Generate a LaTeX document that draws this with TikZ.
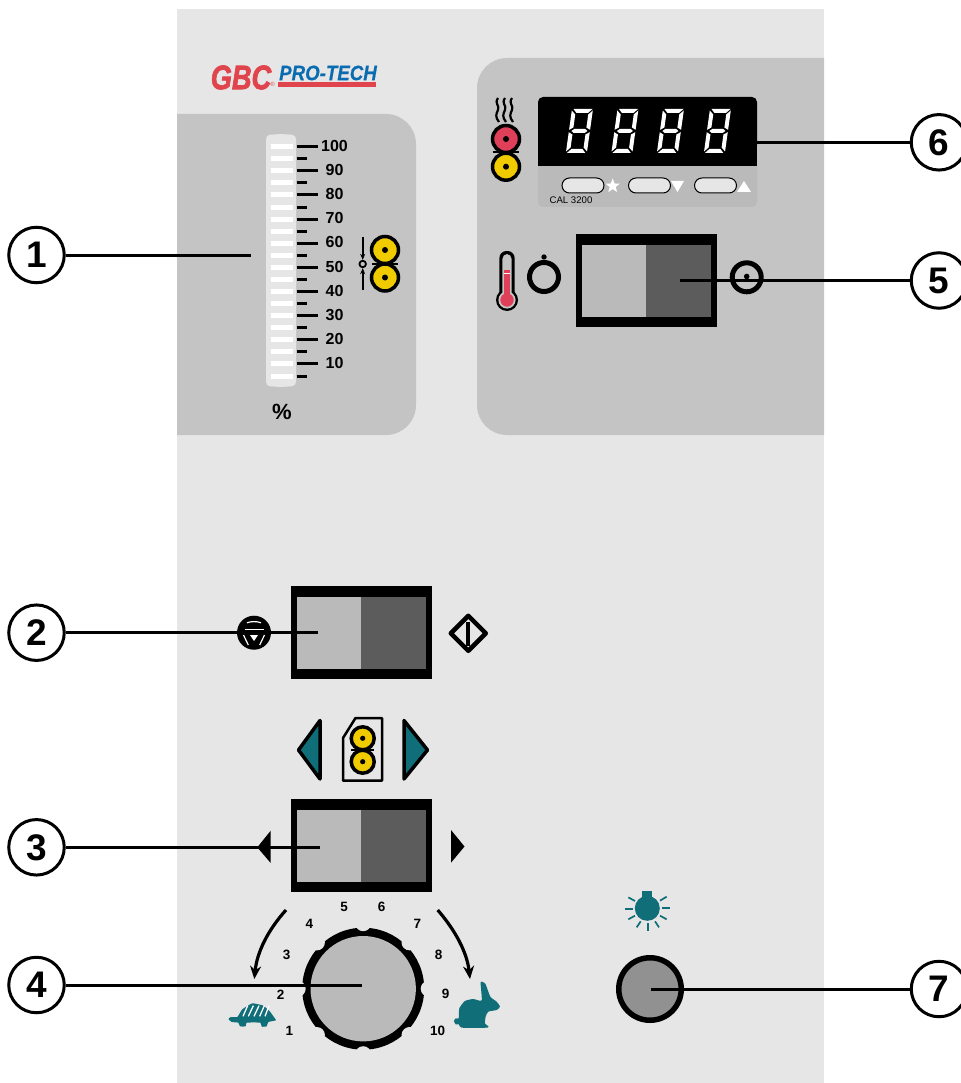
\documentclass[tikz,border=0pt]{standalone}
\usepackage{fontspec}
\setmainfont{Liberation Sans}
\newfontfamily\gbcfont{Liberation Sans}[BoldItalicFeatures={FakeBold=2.2}]
\newfontfamily\profont{Liberation Sans}[BoldItalicFeatures={FakeBold=0.5}]
\usetikzlibrary{shapes.geometric,arrows.meta,calc}
\definecolor{bgc}{HTML}{E6E6E6}
\definecolor{panelc}{HTML}{C4C4C4}
\definecolor{lightc}{HTML}{BABABA}
\definecolor{darkc}{HTML}{5C5C5C}
\definecolor{yellowc}{HTML}{F0CB00}
\definecolor{redc}{HTML}{DF3F58}
\definecolor{tealc}{HTML}{0F6E78}
\definecolor{logored}{HTML}{E0444C}
\definecolor{logoblue}{HTML}{0A6CB0}
\newcommand\fsz[1]{\fontsize{#1}{#1}\selectfont}
\tikzset{
  callout/.style={circle,draw=black,fill=white,line width=3pt,minimum size=55.5pt,inner sep=0pt,font=\fsz{37}\bfseries},
  leader/.style={line width=3pt,black},
  scalelabel/.style={font=\fsz{16}\bfseries,inner sep=0pt},
  diallabel/.style={font=\fsz{13.5}\bfseries,inner sep=0pt},
  tick/.style={line width=3pt,black},
  swframe/.style={rectangle,fill=black,inner sep=0pt,minimum width=141pt,minimum height=93pt},
  rollerb/.style={circle,draw=black,line width=3.5pt,inner sep=0pt},
  bigroller/.style={rollerb,minimum size=27pt},
  smallroller/.style={rollerb,minimum size=23pt},
  tealtri/.style={fill=tealc,draw=black,line width=3.5pt,line join=round},
  ray/.style={line width=1.7pt,tealc},
  turn/.style={line width=3.2pt,black,-{Stealth[length=13pt,width=11pt]}},
  pill/.style={rectangle,rounded corners=7.5pt,fill=bgc,draw=black,line width=1pt,inner sep=0pt,minimum height=15pt,minimum width=42pt},
  softkey/.style={fill=white},
}
\newcommand\sevenseg{%
  \fill[white] (1.5,0)--(20.5,0)--(16.5,4)--(5,4)--cycle;
  \fill[white] (1,44)--(19.5,44)--(16,40)--(5,40)--cycle;
  \fill[white] (0,1.5)--(4,5.5)--(4,18.5)--(0,20.8)--cycle;
  \fill[white] (21,1.5)--(17,5.5)--(17,18.5)--(21,20.8)--cycle;
  \fill[white] (0,23.2)--(4,25.5)--(4,38.5)--(0,42.5)--cycle;
  \fill[white] (21,23.2)--(17,25.5)--(17,38.5)--(21,42.5)--cycle;
  \fill[white] (2.5,22)--(5,20)--(16,20)--(18.5,22)--(16,24)--(5,24)--cycle;
}
\newcommand\rockerswitch[3]{% name, x centre, y centre
  \node[swframe] (#1) at (#2,#3) {};
  \fill[lightc] ($(#1.center)+(-64.5,-36)$) rectangle ($(#1.center)+(0,36)$);
  \fill[darkc] ($(#1.center)+(0,-36)$) rectangle ($(#1.center)+(64.5,36)$);
}
\begin{document}
\begin{tikzpicture}[x=1pt,y=-1pt]
\useasboundingbox (0,0) rectangle (960,1083);
\fill[white] (0,0) rectangle (960,1083);
\fill[bgc] (177,9) rectangle (824,1083);
% grey panels
\begin{scope}
  \clip (177,0) rectangle (824,1083);
  \fill[panelc,rounded corners=30pt] (120,114) rectangle (416,435);
  \fill[panelc,rounded corners=30pt] (477,58) rectangle (880,435);
\end{scope}
% logo
\node[inner sep=0pt,text=logored,font=\fsz{34}\gbcfont\bfseries\itshape] (gbc) at (241,77.5) {\scalebox{.8}[1]{GBC}};
\node[inner sep=0pt,text=logored,font=\fsz{6}] (reg) at (272.5,84.5) {®};
\node[inner sep=0pt,text=logoblue,font=\fsz{21}\profont\bfseries\itshape] (pro) at (328,73) {\scalebox{.89}[1]{PRO-TECH}};
\fill[logored] (278,82) rectangle (376,87);
% tube scale
\fill[bgc,rounded corners=4pt] (266,135) -- (281,134) -- (296,135) -- (296,386) -- (281,387) -- (266,386) -- cycle;
\foreach \i in {0,...,19}{
  \pgfmathsetmacro\yy{146.7+12.07*\i}
  \fill[white] (271,\yy-2.5) rectangle (293,\yy+2.5);
  \pgfmathparse{int(mod(\i,2))}
  \ifnum\pgfmathresult=0
    \draw[tick] (296.5,\yy) -- (318,\yy);
  \else
    \draw[tick] (296.5,\yy) -- (307,\yy);
  \fi
}
\foreach \v/\yy in {100/146,90/170,80/194,70/218,60/242,50/266.5,40/290.5,30/315,20/339,10/363}{
  \node[scalelabel] (s\v) at (334.5,\yy) {\v};
}
\node[inner sep=0pt,font=\fsz{22}\bfseries] (pct) at (282,412) {\%};
% nip rollers, left
\node[bigroller,fill=yellowc] (ra) at (385,250) {};
\node[bigroller,fill=yellowc] (rb) at (385,277.5) {};
\fill (ra) circle[radius=3]; \fill (rb) circle[radius=3];
\draw[line width=2pt] (372,263.5) -- (398,263.5);
\node[circle,draw=black,line width=1.8pt,fill=panelc,minimum size=6.5pt,inner sep=0pt] (gap) at (362.7,264) {};
\coordinate (gt) at (362.7,237); \coordinate (gb) at (362.7,290);
\draw[line width=2pt,-{Stealth[length=6pt,width=5pt]}] (gt) -- (gap.north);
\draw[line width=2pt,-{Stealth[length=6pt,width=5pt]}] (gb) -- (gap.south);
% display
\fill[lightc,rounded corners=5pt] (538,150) rectangle (757,207);
\fill[black,rounded corners=5pt] (538,97) rectangle (757,150);
\fill[black] (538,110) rectangle (757,166);
\foreach \dx in {572,617.5,663,710}{
  \begin{scope}[shift={(\dx,109)},xslant=0.14]
    \sevenseg
  \end{scope}
}
\node[pill] (k1) at (583,185.5) {};
\node[pill] (k2) at (649.5,185.5) {};
\node[pill] (k3) at (715.5,185.5) {};
\node[star,star points=5,star point ratio=2.4,softkey,inner sep=0pt,minimum size=15pt] (kstar) at (612.7,186) {};
\fill[softkey] (671,181) -- (684,181) -- (677.5,192) -- cycle;
\fill[softkey] (737,192) -- (751,192) -- (744,181) -- cycle;
\node[inner sep=0pt,font=\fsz{9.6}] (cal) at (571,200.5) {CAL 3200};
% heat icon
\foreach \xx in {498,505,512}{
  \draw[line width=2.2pt] (\xx,98) .. controls (\xx-4,104) and (\xx+2,105) .. (\xx,110) .. controls (\xx-2,114) and (\xx-3,117) .. (\xx+1,122);
}
\node[bigroller,fill=redc] (heat) at (506,139) {};
\node[bigroller,fill=yellowc] (heatb) at (506,166.7) {};
\fill (heat) circle[radius=3]; \fill (heatb) circle[radius=3];
\draw[line width=2pt] (493,152.5) -- (519,152.5);
% thermometer
\fill[black,rounded corners=7pt] (499.4,251) rectangle (514.6,300);
\fill[black] (507,300) circle[radius=11];
\fill[panelc,rounded corners=5pt] (502.4,254) rectangle (511.6,300);
\fill[panelc] (507,300) circle[radius=8.6];
\fill[redc] (507,300) circle[radius=6.7];
\fill[redc] (504,270) rectangle (510,298);
\draw[white,line width=1pt] (504,273.5) -- (510,273.5);
% off circle and on circle
\node[circle,draw=black,line width=5pt,minimum size=29pt,inner sep=0pt] (ofc) at (544,277) {};
\fill (544,257) circle[radius=2.7];
\rockerswitch{sw5}{646}{280.5}
\node[circle,draw=black,line width=5pt,minimum size=29pt,inner sep=0pt] (onc) at (746.7,277.3) {};
\fill (746.7,276.5) circle[radius=2.8];
% switch 2
\rockerswitch{sw2}{361.3}{632.5}
\node[circle,fill=black,minimum size=34pt,inner sep=0pt] (stop) at (254,632.7) {};
\draw[white,line width=1.2pt] (247,622.8) .. controls (251,621.2) and (257,621.2) .. (261,622.8);
\draw[white,line width=1.2pt] (244.5,629.5) -- (263.5,629.5);
\fill[white] (250,635) -- (258,635) -- (254,641) -- cycle;
\draw[white,line width=1.2pt] (243.5,635) -- (248.3,645);
\draw[white,line width=1.2pt] (264.5,635) -- (259.7,645);
\draw[line width=4.5pt,line join=round] (468.3,615.8) -- (485.8,633.3) -- (468.3,650.8) -- (450.8,633.3) -- cycle;
\draw[line width=4pt] (468.3,621.7) -- (468.3,646);
% direction block
\draw[tealtri] (320,720.5) -- (298.5,750) -- (320,779) -- cycle;
\draw[tealtri] (404,720.5) -- (427.5,750) -- (404,779) -- cycle;
\draw[line width=2.5pt,line join=round,fill=bgc] (355.5,718) -- (382,718) -- (382,780.5) -- (343,780.5) -- (343,738) -- cycle;
\node[smallroller,fill=yellowc] (rc) at (362.7,738.3) {};
\node[smallroller,fill=yellowc] (rd) at (362.7,761.7) {};
\fill (rc) circle[radius=2.6]; \fill (rd) circle[radius=2.6];
\draw[line width=2pt] (351,750) -- (374,750);
% switch 3
\rockerswitch{sw3}{361.3}{845.5}
\fill (270.7,830.7) -- (270.7,863) -- (257.3,847.3) -- cycle;
\fill (451,830) -- (451,862.7) -- (464.5,846.5) -- cycle;
% dial numbers
\foreach \t/\a/\b in {1/289.3/1030.7,2/280.7/994.3,3/286.7/955.3,4/309.3/924.3,5/344/907.3,6/381.7/907.3,7/417.3/924.3,8/438.7/955.3,9/445.7/994.3,10/437.7/1030.7}{
  \node[diallabel] (d\t) at (\a,\b) {\t};
}
% knob
\node[circle,fill=black,minimum size=122pt,inner sep=0pt] (knobo) at (363.2,988.7) {};
\begin{scope}[shift={(363.2,988.7)}]
  \foreach \a in {0,45,...,315}{
    \fill[bgc] (\a:65.5) circle[radius=8];
  }
\end{scope}
\node[circle,fill=lightc,minimum size=105.4pt,inner sep=0pt] (knob) at (363.2,988.7) {};
% speed arrows
\coordinate (ta) at (286,910); \coordinate (tb) at (254.3,979);
\coordinate (tc) at (437.7,910); \coordinate (td) at (470,979);
\draw[turn] (ta) .. controls (268,930) and (257,952) .. (tb);
\draw[turn] (tc) .. controls (455,930) and (467,952) .. (td);
% turtle and rabbit
\begin{scope}[shift={(215,895)},x=0.3333pt,y=-0.3333pt]
  \fill[tealc] plot[smooth cycle,tension=.35] coordinates {(797,262)(811,266)(826,305)(845,320)(855,335)(845,345)(820,350)(812,365)(810,385)(818,392)(818,398)(740,398)(732,388)(722,388)(717,378)(722,370)(731,370)(733,340)(750,318)(775,312)(800,316)};
  \fill[tealc] plot[smooth cycle,tension=.25] coordinates {(40,372)(48,366)(67,366)(82,343)(112,325)(145,332)(165,350)(178,368)(183,376)(160,381)(155,394)(140,395)(136,383)(95,383)(92,394)(75,394)(70,383)(50,381)};
  \foreach \p/\q in {84/98,100/115,117/132,134/148,150/162}{
    \draw[white,line width=1.3pt] (\p,364) -- (\q,332);
  }
\end{scope}
% lamp
\fill[tealc] (642.3,891) rectangle (651.7,900);
\fill[tealc] (647.3,908.3) circle[radius=12.5];
\begin{scope}[shift={(600,880)},x=0.3333pt,y=-0.3333pt]
  \draw[ray] (75,86) -- (100,86);
  \draw[ray] (185,84) -- (210,84);
  \draw[ray] (85,52) -- (105,63);
  \draw[ray] (180,62) -- (200,50);
  \draw[ray] (85,118) -- (105,107);
  \draw[ray] (180,107) -- (200,118);
  \draw[ray] (144,130) -- (144,152);
  \draw[ray] (110,142) -- (122,124);
  \draw[ray] (177,142) -- (165,124);
\end{scope}
\node[circle,draw=black,fill=black!43,line width=5.5pt,minimum size=62.5pt,inner sep=0pt] (lampbtn) at (650,989) {};
% callouts
\node[callout] (c1) at (36.5,255) {1};
\node[callout] (c2) at (36.5,632.7) {2};
\node[callout] (c3) at (36.5,847.3) {3};
\node[callout] (c4) at (36.5,985) {4};
\node[callout] (c5) at (939,280.5) {5};
\node[callout] (c6) at (939,142.3) {6};
\node[callout] (c7) at (939,989) {7};
\coordinate (t1) at (251,255);
\coordinate (t2) at (318,632.7);
\coordinate (t3) at (320,847.3);
\coordinate (t4) at (362,985);
\coordinate (t5) at (680,280.5);
\coordinate (t6) at (757,142.3);
\coordinate (t7) at (651,989);
\foreach \n in {1,2,3,4,5,6,7}{
  \draw[leader] (c\n) -- (t\n);
}
\end{tikzpicture}
\end{document}
